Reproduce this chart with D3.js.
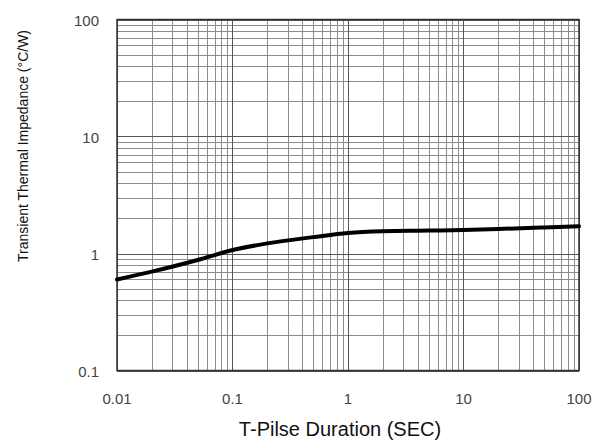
<!DOCTYPE html>
<html>
<head>
<meta charset="utf-8">
<script src="https://cdn.jsdelivr.net/npm/d3@7"></script>
<style>
  body { margin: 0; background: #fff; }
  text { font-family: "Liberation Sans", Arial, sans-serif; }
</style>
</head>
<body>
<svg width="597" height="441"></svg>
<script>
// pulse duration (s) and impedance (°C/W)
const duration = [0.01, 0.02, 0.05, 0.1, 0.2, 0.5, 1, 2, 5, 10, 20, 50, 100];
const impedance = [0.60, 0.70, 0.88, 1.07, 1.22, 1.38, 1.50, 1.55, 1.57, 1.59, 1.62, 1.67, 1.71];

const xTicks = [0.01, 0.1, 1, 10, 100];
const yTicks = [0.1, 1, 10, 100];
const xTickLabels = ["0.01", "0.1", "1", "10", "100"];
const yTickLabels = ["0.1", "1", "10", "100"];

const plotL = 117, plotR = 579, plotT = 19.5, plotB = 370.5;

const svg = d3.select("svg");

const x = d3.scaleLog().domain([0.01, 100]).range([plotL, plotR]);
const y = d3.scaleLog().domain([0.1, 100]).range([plotB, plotT]);

// minor grid values 2..9 in each decade
function minors(lo, hi) {
    const out = [];
    for (let d = lo; d < hi * 0.99; d *= 10) {
        for (let k = 2; k <= 9; k++) out.push(d * k);
    }
    return out;
}

const grid = svg.append("g");

grid.selectAll(".vminor")
    .data(minors(0.01, 100))
    .enter().append("line")
    .attr("x1", d => Math.round(x(d)) + 0.5)
    .attr("x2", d => Math.round(x(d)) + 0.5)
    .attr("y1", plotT).attr("y2", plotB)
    .style("stroke", "#8c8c8c").style("stroke-width", 1);

grid.selectAll(".hminor")
    .data(minors(0.1, 100))
    .enter().append("line")
    .attr("y1", d => Math.round(y(d)) + 0.5)
    .attr("y2", d => Math.round(y(d)) + 0.5)
    .attr("x1", plotL).attr("x2", plotR)
    .style("stroke", "#8c8c8c").style("stroke-width", 1);

grid.selectAll(".vmajor")
    .data(xTicks)
    .enter().append("line")
    .attr("x1", d => Math.round(x(d)) + 0.5)
    .attr("x2", d => Math.round(x(d)) + 0.5)
    .attr("y1", plotT).attr("y2", plotB)
    .style("stroke", "#555").style("stroke-width", 1);

grid.selectAll(".hmajor")
    .data(yTicks)
    .enter().append("line")
    .attr("y1", d => Math.round(y(d)) + 0.5)
    .attr("y2", d => Math.round(y(d)) + 0.5)
    .attr("x1", plotL).attr("x2", plotR)
    .style("stroke", "#555").style("stroke-width", 1);

// frame
svg.append("rect")
    .attr("x", plotL).attr("y", plotT)
    .attr("width", plotR - plotL).attr("height", plotB - plotT)
    .style("fill", "none").style("stroke", "#333").style("stroke-width", 1.5);

// curve
const line = d3.line()
    .x((d, i) => x(duration[i]))
    .y(d => y(d))
    .curve(d3.curveMonotoneX);

svg.append("path")
    .datum(impedance)
    .attr("d", line)
    .style("fill", "none")
    .style("stroke", "#000")
    .style("stroke-width", 4)
    .style("stroke-linecap", "round");

// tick labels
svg.selectAll(".xlab")
    .data(xTicks)
    .enter().append("text")
    .attr("x", d => x(d))
    .attr("y", 404)
    .attr("text-anchor", "middle")
    .style("font-size", "15px")
    .style("fill", "#444")
    .text((d, i) => xTickLabels[i]);

svg.selectAll(".ylab")
    .data(yTicks)
    .enter().append("text")
    .attr("x", 99)
    .attr("y", d => y(d) + 6.5)
    .attr("text-anchor", "end")
    .style("font-size", "15px")
    .style("fill", "#444")
    .text((d, i) => yTickLabels[i]);

// axis titles
svg.append("text")
    .attr("x", 340)
    .attr("y", 436)
    .attr("text-anchor", "middle")
    .style("font-size", "20px")
    .style("fill", "#111")
    .text("T-Pilse Duration (SEC)");

svg.append("text")
    .attr("transform", "translate(28,146) rotate(-90)")
    .attr("text-anchor", "middle")
    .style("font-size", "14px")
    .style("fill", "#111")
    .text("Transient Thermal Impedance (°C/W)");
</script>
</body>
</html>
